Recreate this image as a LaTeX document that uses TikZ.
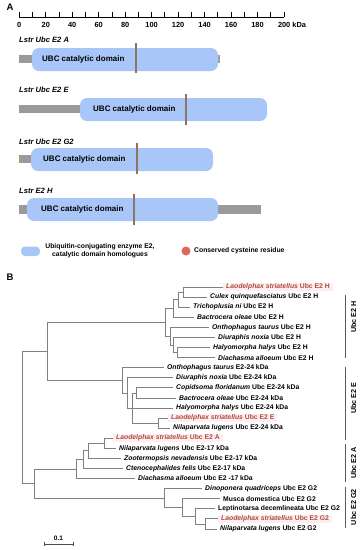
\documentclass[tikz,border=0pt]{standalone}
\usepackage{fontspec}
\setmainfont{Liberation Sans}
\definecolor{ubcblue}{HTML}{A9C6F8}
\definecolor{bargray}{HTML}{9A9A9A}
\definecolor{cysline}{HTML}{8C7460}
\definecolor{cysred}{HTML}{DC6A5C}
\definecolor{treegray}{HTML}{808080}
\definecolor{lred}{HTML}{B04A3A}
\definecolor{lpink}{HTML}{FDEEF2}
\newcommand\leaffont{\fontsize{6.8}{7.5}\selectfont\bfseries}
\newcommand\labfont{\fontsize{7.6}{9}\selectfont\bfseries}
\begin{document}
\begin{tikzpicture}[x=1pt,y=-1pt,
  tree/.style={draw=treegray, line width=0.7pt},
  graybar/.style={fill=bargray, draw=none},
  ubc/.style={fill=ubcblue, draw=none, rounded corners=7pt},
  cys/.style={draw=cysline, line width=1.3pt},
  leaf/.style={anchor=west, inner xsep=3pt, inner ysep=0.6pt, font=\leaffont},
  leafred/.style={leaf, text=lred, fill=lpink},
  prot/.style={anchor=west, inner sep=0pt, font=\labfont\itshape},
  dom/.style={anchor=west, inner sep=0pt, font=\fontsize{8}{9}\selectfont\bfseries},
  panel/.style={anchor=center, inner sep=0pt, font=\fontsize{9.5}{10}\selectfont\bfseries},
  clade/.style={rotate=90, inner sep=0pt, font=\fontsize{7.2}{8}\selectfont\bfseries},
  bracket/.style={draw=black!65, line width=0.8pt}]
\useasboundingbox (0,0) rectangle (362,550);

% ---------- Panel A ----------
\node[panel] (pA) at (10,7) {A};
\draw[line width=0.8pt] (19.3,17) -- (284,17);
\foreach \i in {0,...,20} \draw[line width=0.8pt] (19.3+13.235*\i,12.3) -- (19.3+13.235*\i,17);
\foreach \i in {0,...,9} {
  \pgfmathtruncatemacro\v{20*\i}
  \node[inner sep=0pt, font=\fontsize{7.4}{8}\selectfont\bfseries] (tk\i) at (19.3+26.47*\i,25) {\v};
}
\node[anchor=west, inner sep=0pt, font=\fontsize{7.4}{8}\selectfont\bfseries] (tk10) at (277.8,25) {200 kDa};

% protein A
\node[prot] (nA) at (19,40) {Lstr Ubc E2 A};
\path[graybar] (19,55) rectangle (33,63);
\path[graybar] (217,55) rectangle (219.5,63);
\path[ubc] (32,48) rectangle (218,71);
\node[dom] (dA) at (42,59.5) {UBC catalytic domain};
\draw[cys] (136,43) -- (136,73);

% protein E
\node[prot] (nE) at (19,90) {Lstr Ubc E2 E};
\path[graybar] (19,105) rectangle (81,113);
\path[ubc] (80,98) rectangle (267,121);
\node[dom] (dE) at (93,109.5) {UBC catalytic domain};
\draw[cys] (186,94) -- (186,125);

% protein G2
\node[prot] (nG) at (19,142) {Lstr Ubc E2 G2};
\path[graybar] (19,155) rectangle (32,163);
\path[ubc] (31,148) rectangle (213,171);
\node[dom] (dG) at (43,159.5) {UBC catalytic domain};
\draw[cys] (137,143) -- (137,174);

% protein H
\node[prot] (nH) at (19,191) {Lstr E2 H};
\path[graybar] (19,205) rectangle (28,214);
\path[graybar] (217,205) rectangle (261,214);
\path[ubc] (27,198) rectangle (218,221);
\node[dom] (dH) at (41,209.5) {UBC catalytic domain};
\draw[cys] (134,194) -- (134,225);

% legend
\path[fill=ubcblue, rounded corners=4pt] (21,246.5) rectangle (40,256);
\node[align=center, inner sep=0pt, font=\fontsize{6.8}{7.6}\selectfont\bfseries] (lg1) at (100,250.5) {Ubiquitin-conjugating enzyme E2,\\catalytic domain homologues};
\fill[cysred] (186,251) circle (4.5);
\node[anchor=west, inner sep=0pt, font=\fontsize{6.8}{7.6}\selectfont\bfseries] (lg2) at (194,251) {Conserved cysteine residue};

% ---------- Panel B ----------
\node[panel] (pB) at (10,277) {B};

% leaves
\node[leafred] (L1) at (223,287) {\textit{Laodelphax striatellus} Ubc E2 H};
\node[leaf] (L2) at (207,297.1) {\textit{Culex quinquefasciatus} Ubc E2 H};
\node[leaf] (L3) at (190,307.2) {\textit{Trichoplusia ni} Ubc E2 H};
\node[leaf] (L4) at (194,317.2) {\textit{Bactrocera oleae} Ubc E2 H};
\node[leaf] (L5) at (209,327.3) {\textit{Onthophagus taurus} Ubc E2 H};
\node[leaf] (L6) at (215,337.4) {\textit{Diuraphis noxia} Ubc E2 H};
\node[leaf] (L7) at (210,347.5) {\textit{Halyomorpha halys} Ubc E2 H};
\node[leaf] (L8) at (215,357.6) {\textit{Diachasma alloeum} Ubc E2 H};
\node[leaf] (L9) at (164,367.6) {\textit{Onthophagus taurus} E2-24 kDa};
\node[leaf] (L10) at (173,377.7) {\textit{Diuraphis noxia} Ubc E2-24 kDa};
\node[leaf] (L11) at (173,387.8) {\textit{Copidsoma floridanum} Ubc E2-24 kDa};
\node[leaf] (L12) at (176,397.9) {\textit{Bactrocera oleae} Ubc E2-24 kDa};
\node[leaf] (L13) at (173,408) {\textit{Halyomorpha halys} Ubc E2-24 kDa};
\node[leafred] (L14) at (168,418) {\textit{Laodelphax striatellus} Ubc E2 E};
\node[leaf] (L15) at (170,428.1) {\textit{Nilaparvata lugens} Ubc E2-24 kDa};
\node[leafred] (L16) at (113,438.2) {\textit{Laodelphax striatellus} Ubc E2 A};
\node[leaf] (L17) at (116,448.3) {\textit{Nilaparvata lugens} Ubc E2-17 kDa};
\node[leaf] (L18) at (121,458.4) {\textit{Zootermopsis nevadensis} Ubc E2-17 kDa};
\node[leaf] (L19) at (123,468.4) {\textit{Ctenocephalides felis} Ubc E2-17 kDa};
\node[leaf] (L20) at (135,478.5) {\textit{Diachasma alloeum} Ubc E2 -17 kDa};
\node[leaf] (L21) at (202,488.6) {\textit{Dinoponera quadriceps} Ubc E2 G2};
\node[leaf] (L22) at (220,498.7) {Musca domestica Ubc E2 G2};
\node[leaf] (L23) at (215,508.8) {Leptinotarsa decemlineata Ubc E2 G2};
\node[leafred] (L24) at (218,518.8) {\textit{Laodelphax striatellus} Ubc E2 G2};
\node[leaf] (L25) at (217,528.9) {\textit{Nilaparvata lugens} Ubc E2 G2};

% internal nodes
\coordinate (H1) at (183,292);
\coordinate (H2) at (178,299.6);
\coordinate (H3) at (173,308.4);
\coordinate (H5) at (177,352.5);
\coordinate (H6) at (173,345);
\coordinate (H7) at (170,336.1);
\coordinate (H8) at (165,322.3);
\coordinate (E6) at (158,423);
\coordinate (E4) at (136,392.9);
\coordinate (E5) at (132,408);
\coordinate (E2) at (127,392.9);
\coordinate (E1) at (122,380.2);
\coordinate (T) at (47,351.3);
\coordinate (A1) at (104,443.2);
\coordinate (A2) at (88,450.8);
\coordinate (A3) at (83,459.6);
\coordinate (A4) at (76,469);
\coordinate (G1) at (205,523.9);
\coordinate (G2) at (195,516.3);
\coordinate (G3) at (182,507.5);
\coordinate (G4) at (164,498);
\coordinate (Bn) at (34,483.5);
\coordinate (R) at (22,417.4);

% branches
\draw[tree] (H1) |- (L1.west) (H1) |- (L2.west);
\draw[tree] (H2) |- (H1) (H2) |- (L3.west);
\draw[tree] (H3) |- (H2) (H3) |- (L4.west);
\draw[tree] (H5) |- (L7.west) (H5) |- (L8.west);
\draw[tree] (H6) |- (L6.west) (H6) |- (H5);
\draw[tree] (H7) |- (L5.west) (H7) |- (H6);
\draw[tree] (H8) |- (H3) (H8) |- (H7);
\draw[tree] (E6) |- (L14.west) (E6) |- (L15.west);
\draw[tree] (E4) |- (L11.west) (E4) |- (L12.west);
\draw[tree] (E5) |- (E4) (E5) |- (L13.west) (E5) |- (E6);
\draw[tree] (E2) |- (L10.west) (E2) |- (E5);
\draw[tree] (E1) |- (L9.west) (E1) |- (E2);
\draw[tree] (T) |- (H8) (T) |- (E1);
\draw[tree] (A1) |- (L16.west) (A1) |- (L17.west);
\draw[tree] (A2) |- (A1) (A2) |- (L18.west);
\draw[tree] (A3) |- (A2) (A3) |- (L19.west);
\draw[tree] (A4) |- (A3) (A4) |- (L20.west);
\draw[tree] (G1) |- (L24.west) (G1) |- (L25.west);
\draw[tree] (G2) |- (L23.west) (G2) |- (G1);
\draw[tree] (G3) |- (L22.west) (G3) |- (G2);
\draw[tree] (G4) |- (L21.west) (G4) |- (G3);
\draw[tree] (Bn) |- (A4) (Bn) |- (G4);
\draw[tree] (R) |- (T) (R) |- (Bn);

% clade brackets
\draw[bracket] (345,295) -- (345,358);
\node[clade] (cH) at (353.5,317) {Ubc E2 H};
\draw[bracket] (345,367) -- (345,440);
\node[clade] (cE) at (353.5,398) {Ubc E2 E};
\draw[bracket] (345,444) -- (345,482);
\node[clade] (cA) at (353.5,463) {Ubc E2 A};
\draw[bracket] (345,487) -- (345,528);
\node[clade] (cG) at (353.5,507) {Ubc E2 G2};

% scale bar
\node[inner sep=0pt, font=\fontsize{6.5}{7}\selectfont\bfseries] (sc) at (58.5,538.5) {0.1};
\draw[tree, draw=black!70] (44,544) -- (73,544) (44,542) -- (44,546) (73,542) -- (73,546);
\end{tikzpicture}
\end{document}
